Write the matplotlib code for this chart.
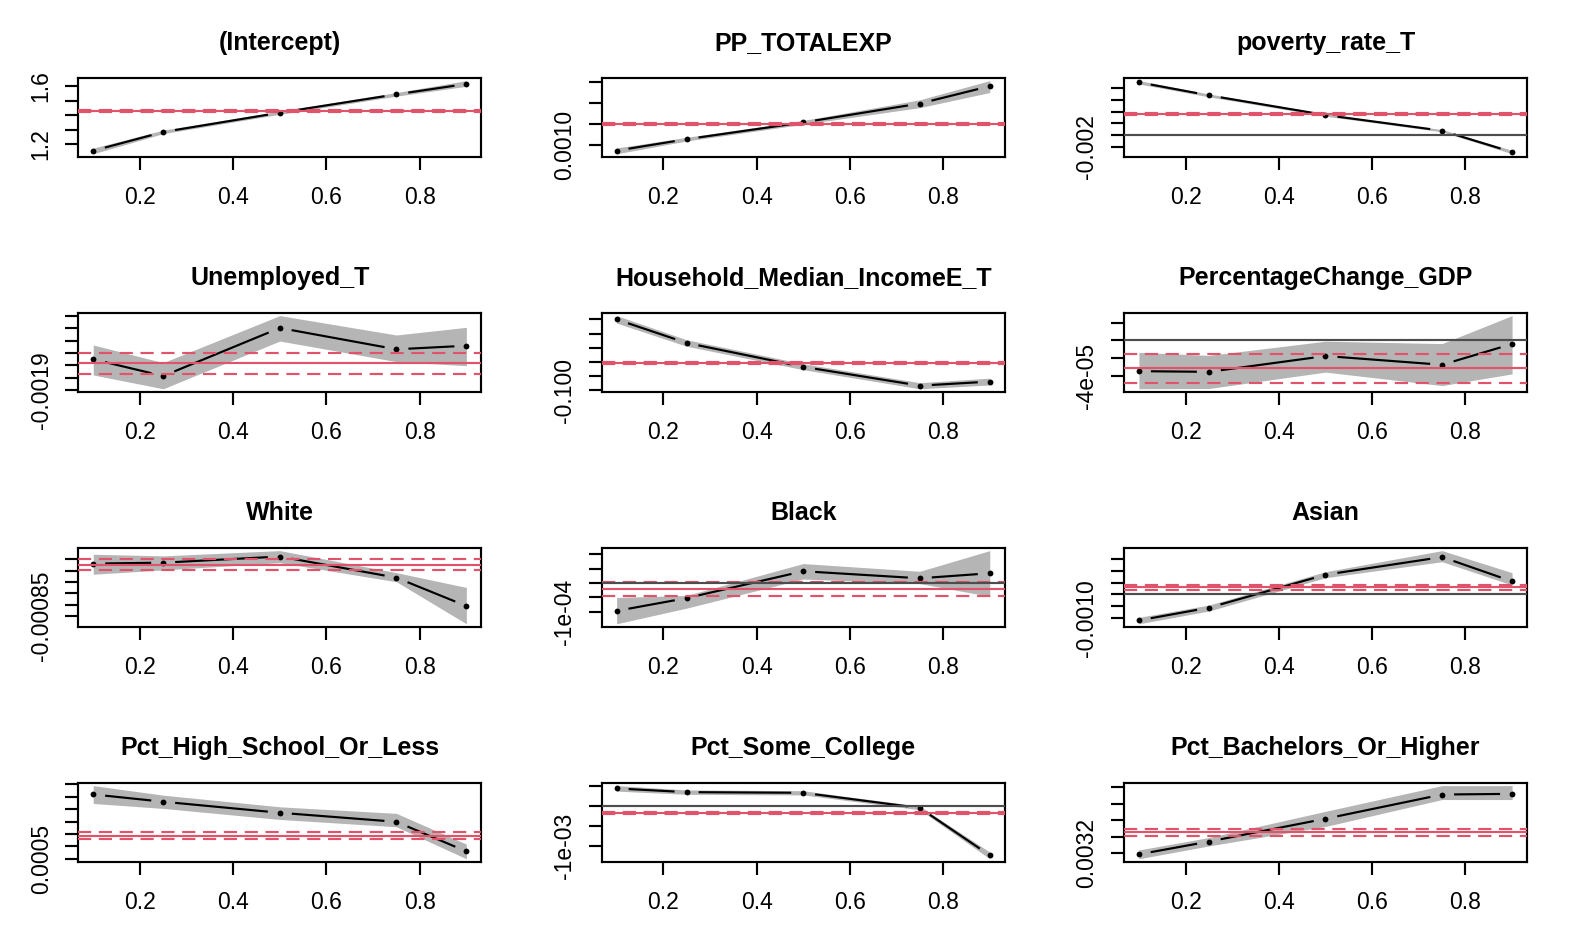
import numpy as np
import matplotlib
matplotlib.use("Agg")
import matplotlib.pyplot as plt

plt.rcParams['font.family'] = ['Liberation Sans', 'DejaVu Sans']
plt.rcParams['lines.scale_dashes'] = False

taus = [0.1, 0.25, 0.5, 0.75, 0.9]
xticks = [0.2, 0.4, 0.6, 0.8]
xticklabels = ["0.2", "0.4", "0.6", "0.8"]

titles = ["(Intercept)", "PP_TOTALEXP", "poverty_rate_T",
          "Unemployed_T", "Household_Median_IncomeE_T", "PercentageChange_GDP",
          "White", "Black", "Asian",
          "Pct_High_School_Or_Less", "Pct_Some_College", "Pct_Bachelors_Or_Higher"]

# quantile regression estimates, lower and upper bounds; OLS = [estimate, lower, upper]
intercept_coef = [1.154, 1.283, 1.416, 1.5425, 1.614]
intercept_lo = [1.133, 1.272, 1.405, 1.530, 1.598]
intercept_hi = [1.172, 1.296, 1.427, 1.555, 1.637]
intercept_ols = [1.425, 1.418, 1.432]

pp_coef = [0.000942, 0.001052, 0.001213, 0.001394, 0.001561]
pp_lo = [0.000912, 0.001035, 0.001195, 0.001355, 0.001500]
pp_hi = [0.000968, 0.001070, 0.001232, 0.001430, 0.001614]
pp_ols = [0.0012, 0.00119, 0.00121]

pov_coef = [0.00898, 0.00676, 0.00341, 0.00074, -0.0029]
pov_lo = [0.0087, 0.0065, 0.0032, 0.00055, -0.00319]
pov_hi = [0.00927, 0.0070, 0.0036, 0.00093, -0.0026]
pov_ols = [0.00364, 0.00344, 0.00384]

unemp_coef = [-0.001651, -0.0017865, -0.001397, -0.00157, -0.001541]
unemp_lo = [-0.001778, -0.001890, -0.001503, -0.00167, -0.001703]
unemp_hi = [-0.001535, -0.001678, -0.001297, -0.001454, -0.001392]
unemp_ols = [-0.001681, -0.00177, -0.001597]

inc_coef = [-0.075, -0.08333, -0.09179, -0.09845, -0.09702]
inc_lo = [-0.0763, -0.0845, -0.0928, -0.09956, -0.0982]
inc_hi = [-0.07366, -0.0822, -0.0907, -0.0974, -0.0958]
inc_ols = [-0.09048, -0.09093, -0.09003]

gdp_coef = [-3.49e-5, -3.57e-5, -1.78e-5, -2.77e-5, -0.42e-5]
gdp_lo = [-5.48e-5, -5.45e-5, -3.6e-5, -5.12e-5, -3.8e-5]
gdp_hi = [-1.37e-5, -1.71e-5, -0.11e-5, -0.38e-5, 2.78e-5]
gdp_ols = [-3.19e-5, -4.86e-5, -1.56e-5]

white_coef = [-0.000619, -0.000615, -0.000588, -0.000681, -0.000806]
white_lo = [-0.000666, -0.000647, -0.000615, -0.000699, -0.000884]
white_hi = [-0.000578, -0.000585, -0.000562, -0.000659, -0.000724]
white_ols = [-0.000624, -0.000646, -0.000601]

black_coef = [-9.76e-5, -5.29e-5, 4.12e-5, 1.65e-5, 3.41e-5]
black_lo = [-14.27e-5, -8.8e-5, 1.4e-5, -0.2e-5, -4.7e-5]
black_hi = [-5.06e-5, -4.35e-5, 6.8e-5, 4.1e-5, 11.33e-5]
black_ols = [-2.24e-5, -4.47e-5, 0.24e-5]

asian_coef = [-0.001108, -0.000568, 0.000838, 0.001591, 0.000554]
asian_lo = [-0.001253, -0.00071, 0.00071, 0.001392, 0.000398]
asian_hi = [-0.00098, -0.000455, 0.000966, 0.001864, 0.000923]
asian_ols = [0.000313, 0.000185, 0.000412]

hs_coef = [0.001019, 0.00096, 0.000871, 0.000798, 0.000559]
hs_lo = [0.000946, 0.000906, 0.000817, 0.000758, 0.0004996]
hs_hi = [0.00109, 0.001013, 0.000919, 0.000866, 0.000618]
hs_ols = [0.000685, 0.000656, 0.000715]

sc_coef = [4.27e-4, 3.35e-4, 3.18e-4, -0.59e-4, -12.4e-4]
sc_lo = [3.6e-4, 2.8e-4, 2.65e-4, -1.05e-4, -13.26e-4]
sc_hi = [4.97e-4, 3.9e-4, 3.7e-4, -0.15e-4, -11.6e-4]
sc_ols = [-1.84e-4, -2.14e-4, -1.54e-4]

ba_coef = [0.003184, 0.003339, 0.003616, 0.00391, 0.003918]
ba_lo = [0.00313, 0.003286, 0.003522, 0.003849, 0.003849]
ba_hi = [0.003237, 0.003388, 0.003706, 0.004018, 0.004018]
ba_ols = [0.003453, 0.003412, 0.003494]

# y ticks and the labels R kept visible
intercept_yt = [1.2, 1.3, 1.4, 1.5, 1.6]
intercept_yl = ["1.2", "", "", "", "1.6"]
pp_yt = [0.0010, 0.0012, 0.0014, 0.0016]
pp_yl = ["0.0010", "", "", ""]
pov_yt = [-0.002, 0.0, 0.002, 0.004, 0.006, 0.008]
pov_yl = ["-0.002", "", "", "", "", ""]
unemp_yt = [-0.0019, -0.0018, -0.0017, -0.0016, -0.0015, -0.0014, -0.0013]
unemp_yl = ["-0.0019", "", "", "", "", "", ""]
inc_yt = [-0.100, -0.095, -0.090, -0.085, -0.080, -0.075]
inc_yl = ["-0.100", "", "", "", "", ""]
gdp_yt = [-4e-5, -2e-5, 0.0, 2e-5]
gdp_yl = ["-4e-05", "", "", ""]
white_yt = [-0.00085, -0.00080, -0.00075, -0.00070, -0.00065, -0.00060]
white_yl = ["-0.00085", "", "", "", "", ""]
black_yt = [-1e-4, -5e-5, 0.0, 5e-5, 1e-4]
black_yl = ["-1e-04", "", "", "", ""]
asian_yt = [-0.0010, -0.0005, 0.0, 0.0005, 0.0010, 0.0015]
asian_yl = ["-0.0010", "", "", "", "", ""]
hs_yt = [0.0005, 0.0006, 0.0007, 0.0008, 0.0009, 0.0010, 0.0011]
hs_yl = ["0.0005", "", "", "", "", "", ""]
sc_yt = [-1e-3, -5e-4, 0.0, 5e-4]
sc_yl = ["-1e-03", "", "", ""]
ba_yt = [0.0032, 0.0034, 0.0036, 0.0038, 0.0040]
ba_yl = ["0.0032", "", "", "", ""]

panels = [
    (intercept_coef, intercept_lo, intercept_hi, intercept_ols, intercept_yt, intercept_yl),
    (pp_coef, pp_lo, pp_hi, pp_ols, pp_yt, pp_yl),
    (pov_coef, pov_lo, pov_hi, pov_ols, pov_yt, pov_yl),
    (unemp_coef, unemp_lo, unemp_hi, unemp_ols, unemp_yt, unemp_yl),
    (inc_coef, inc_lo, inc_hi, inc_ols, inc_yt, inc_yl),
    (gdp_coef, gdp_lo, gdp_hi, gdp_ols, gdp_yt, gdp_yl),
    (white_coef, white_lo, white_hi, white_ols, white_yt, white_yl),
    (black_coef, black_lo, black_hi, black_ols, black_yt, black_yl),
    (asian_coef, asian_lo, asian_hi, asian_ols, asian_yt, asian_yl),
    (hs_coef, hs_lo, hs_hi, hs_ols, hs_yt, hs_yl),
    (sc_coef, sc_lo, sc_hi, sc_ols, sc_yt, sc_yl),
    (ba_coef, ba_lo, ba_hi, ba_ols, ba_yt, ba_yl),
]

W, H = 1570, 940
DPI = 100
fig = plt.figure(figsize=(W / DPI, H / DPI), dpi=DPI)

col_left = [78.3, 601.7, 1124.0]
row_top = [77.7, 312.7, 547.7, 782.7]
pw, ph = 403.0, 79.0

RED = "#DF536B"
BAND = "#B5B5B5"
ZERO = "#4D4D4D"
LW = 1.55
GAP = 12.0


def extend(lo, hi, f=0.04):
    d = (hi - lo) * f
    return lo - d, hi + d


def broken_line(ax, x, y, gap_px):
    pts = ax.transData.transform(np.column_stack([x, y]))
    inv = ax.transData.inverted()
    for (x0, y0), (x1, y1) in zip(pts[:-1], pts[1:]):
        d = np.hypot(x1 - x0, y1 - y0)
        if d <= 2 * gap_px:
            continue
        ux, uy = (x1 - x0) / d, (y1 - y0) / d
        seg = inv.transform([[x0 + ux * gap_px, y0 + uy * gap_px],
                             [x1 - ux * gap_px, y1 - uy * gap_px]])
        ax.plot(seg[:, 0], seg[:, 1], color="black", lw=LW,
                solid_capstyle="butt", zorder=3)


for i, (coef, lo, hi, ols, yt, yl) in enumerate(panels):
    r, c = divmod(i, 3)
    left = col_left[c] / W
    bottom = 1 - (row_top[r] + ph) / H
    ax = fig.add_axes([left, bottom, pw / W, ph / H])

    ax.set_xlim(*extend(min(taus), max(taus)))
    ymin = min(min(lo), min(ols))
    ymax = max(max(hi), max(ols))
    y0, y1 = extend(ymin, ymax)
    ax.set_ylim(y0, y1)

    ax.fill_between(taus, lo, hi, color=BAND, lw=0, zorder=1)
    ax.plot(taus, coef, "o", color="black", ms=4.2, mew=0, zorder=4)
    broken_line(ax, taus, coef, GAP)

    ax.axhline(ols[0], color=RED, lw=LW, zorder=5)
    for v in ols[1:]:
        ax.axhline(v, color=RED, lw=LW, linestyle=(0, (9.5, 5.5)), zorder=5)
    if y0 < 0 < y1:
        ax.axhline(0, color=ZERO, lw=LW, zorder=6)

    ax.set_xticks(xticks)
    ax.set_xticklabels(xticklabels)
    ax.set_yticks(yt)
    ax.set_yticklabels(yl, rotation=90, va="center")

    ax.tick_params(axis="both", length=9.4, width=LW, labelsize=16.5, color="black")
    ax.tick_params(axis="x", pad=12)
    ax.tick_params(axis="y", pad=9)
    for s in ax.spines.values():
        s.set_linewidth(LW)

    ax.set_title(titles[i], fontsize=18, fontweight="bold", pad=20)

fig.savefig("out.png", dpi=DPI)
